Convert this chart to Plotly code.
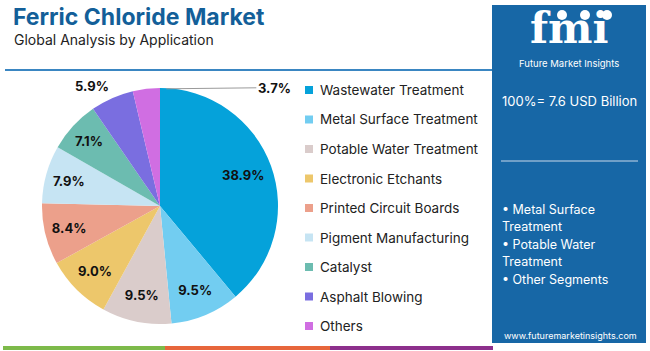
import math
import plotly.graph_objects as go

categories = ["Wastewater Treatment", "Metal Surface Treatment", "Potable Water Treatment",
              "Electronic Etchants", "Printed Circuit Boards", "Pigment Manufacturing",
              "Catalyst", "Asphalt Blowing", "Others"]
shares = [38.9, 9.5, 9.5, 9.0, 8.4, 7.9, 7.1, 5.9, 3.7]
colors = ["#05a2da", "#72cdf1", "#dacccb", "#edc76b", "#eca08b", "#c6e4f3",
          "#6cbcb0", "#7a6ee0", "#d06ee2"]
total_label = "100%= 7.6 USD Billion"
highlights = ["• Metal Surface", "Treatment", "• Potable Water", "Treatment", "• Other Segments"]

W, H = 650, 351
FONT = "Inter, 'Open Sans', sans-serif"


def px(x):
    return x / W


def py(y):
    return 1 - y / H


# pie geometry (pixels)
cx, cy, r = 160, 206, 118
# label mode per slice: plotly inside text, or a placed annotation
mode = ["ring", "in", "in", "in", "in", "in", "in", "out", "leader"]

fig = go.Figure()
fig.add_trace(go.Pie(
    labels=categories, values=shares, sort=False, direction="clockwise", rotation=0,
    marker=dict(colors=colors, line=dict(width=0)),
    text=[f"{v:.1f}%" for v in shares], textinfo="text",
    textposition=["inside" if m == "in" else "none" for m in mode],
    insidetextorientation="horizontal",
    textfont=dict(family=FONT, size=13, color="#111111", weight="bold"),
    domain=dict(x=[px(cx - r), px(cx + r)], y=[py(cy + r), py(cy - r)]),
    showlegend=False, hoverinfo="label+percent",
))

shapes = []
annotations = []


def note(x, y, text, size, color="#222222", xanchor="center", family=FONT, yanchor="middle"):
    annotations.append(dict(x=px(x), y=py(y), xref="paper", yref="paper", xanchor=xanchor,
                            yanchor=yanchor, showarrow=False, text=text,
                            font=dict(family=family, size=size, color=color)))


# labels placed from the data angles
tot = sum(shares)
cum = 0
for i, v in enumerate(shares):
    mid = (cum + v / 2) / tot * 2 * math.pi
    cum += v
    m = mode[i]
    lab = f"<b>{v:.1f}%</b>"
    if m == "ring":
        note(cx + 0.75 * r * math.sin(mid), cy - 0.77 * r * math.cos(mid), lab, 13, "#111")
    elif m == "out":
        ex, ey = cx + r * math.sin(mid), cy - r * math.cos(mid)
        note(ex - 20, ey - 12, lab, 13, "#111")
    elif m == "leader":
        ex, ey = cx + r * math.sin(mid), cy - r * math.cos(mid)
        annotations.append(dict(x=px(ex + 20), y=py(ey), xref="paper", yref="paper",
                                text=lab, showarrow=True, arrowhead=0,
                                arrowwidth=1, arrowcolor="#9a9a9a", ax=90, ay=-1,
                                xanchor="left", yanchor="middle",
                                font=dict(family=FONT, size=13, color="#111")))

# title
note(11, 17, "<b>Ferric Chloride Market</b>", 23, "#135f99", "left")
note(12, 39, "Global Analysis by Application", 14, "#222222", "left")
shapes.append(dict(type="line", xref="paper", yref="paper", x0=px(5), x1=px(492),
                   y0=py(70), y1=py(70), line=dict(color="#3a86c2", width=2)))

# legend
for i, (c, col) in enumerate(zip(categories, colors)):
    yy = 90 + i * 29.5
    shapes.append(dict(type="rect", xref="paper", yref="paper", x0=px(305), x1=px(313),
                       y0=py(yy - 4), y1=py(yy + 4), fillcolor=col, line=dict(width=0)))
    note(318, yy, c, 13.5, "#222222", "left")

# right panel
shapes.append(dict(type="rect", xref="paper", yref="paper", x0=px(492), x1=px(646),
                   y0=py(343), y1=py(5), fillcolor="#1767a6", line=dict(width=0)))
note(569, 55, "<b>fmi</b>", 42, "white", family="DejaVu Serif", yanchor="bottom")
for xc in (562, 585, 607):
    shapes.append(dict(type="circle", xref="paper", yref="paper", x0=px(xc - 5),
                       x1=px(xc + 5), y0=py(20), y1=py(10), fillcolor="white",
                       line=dict(width=0)))
note(569, 56, "Future Market Insights", 9.5, "white", yanchor="top")
note(569, 101, total_label, 13, "white")
shapes.append(dict(type="line", xref="paper", yref="paper", x0=px(501), x1=px(638),
                   y0=py(161), y1=py(161), line=dict(color="#c9d9ea", width=1)))
for i, t in enumerate(highlights):
    note(500, 209 + i * 17.5, t, 12.5, "white", "left")
note(570, 335, "www.futuremarketinsights.com", 9, "white")

# bottom stripes
for x0, x1, col in [(3, 165, "#7dba4a"), (165, 330, "#e7663c"), (330, 493, "#8d2f8c")]:
    shapes.append(dict(type="rect", xref="paper", yref="paper", x0=px(x0), x1=px(x1),
                       y0=py(350), y1=py(346), fillcolor=col, line=dict(width=0)))

fig.update_layout(width=W, height=H, margin=dict(l=0, r=0, t=0, b=0),
                  paper_bgcolor="white", plot_bgcolor="white",
                  shapes=shapes, annotations=annotations)
fig.write_html("out.html")
